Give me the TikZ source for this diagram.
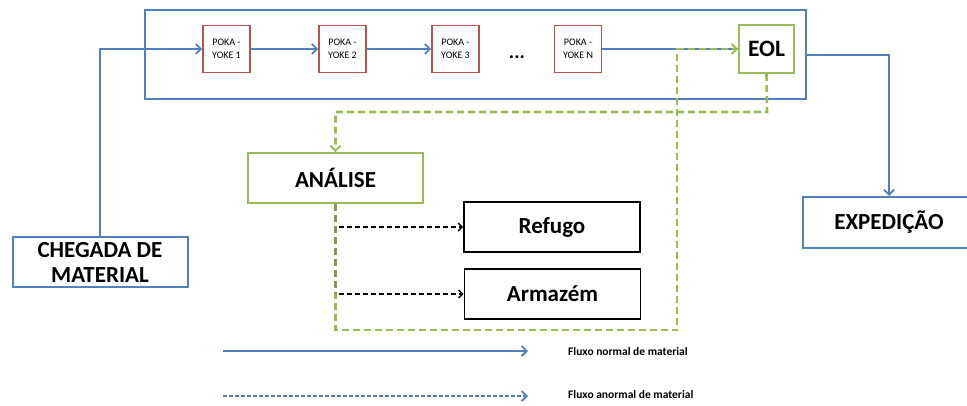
\documentclass[tikz,border=0pt]{standalone}
\usepackage{fontspec}
\setmainfont{Carlito}
\usetikzlibrary{arrows.meta}

\definecolor{azul}{HTML}{4F81BD}
\definecolor{vermelho}{HTML}{C0504D}
\definecolor{verde}{HTML}{9BBB59}
\definecolor{verdeesc}{HTML}{7F9A52}

\tikzset{
  caixa/.style={draw=azul, line width=2pt, fill=white, align=center, inner sep=0pt,
    font=\bfseries\fontsize{23}{25}\selectfont},
  poka/.style={draw=vermelho, line width=1.8pt, fill=white, align=center, inner sep=0pt,
    minimum width=47pt, minimum height=47pt, font=\fontsize{10}{12.5}\selectfont},
  ponta/.style={-{Straight Barb[length=5pt, width=10pt, line width=1.8pt]}},
  pontinha/.style={-{Straight Barb[length=4pt, width=8pt, line width=1.4pt]}},
  fluxo/.style={azul, line width=2.2pt, ponta},
  retorno/.style={verde, line width=2.6pt, dash pattern=on 7pt off 4pt},
  saida/.style={black, line width=1.6pt, dash pattern=on 5pt off 3pt, pontinha},
  legenda/.style={anchor=west, inner sep=0pt, font=\bfseries\fontsize{11.5}{13}\selectfont}
}

\begin{document}
\begin{tikzpicture}[x=1pt, y=-1pt]
  \useasboundingbox (0,0) rectangle (967,405);
  \clip (0,0) rectangle (967,405);

  % linha de montagem
  \node[draw=azul, line width=2pt, minimum width=661pt, minimum height=89pt, inner sep=0pt] (linha) at (475.5,54.5) {};
  \node[poka] (pk1) at (226.5,49) {POKA -\\YOKE 1};
  \node[poka] (pk2) at (342.5,49) {POKA -\\YOKE 2};
  \node[poka] (pk3) at (455.5,49) {POKA -\\YOKE 3};
  \node[font=\bfseries\fontsize{20}{20}\selectfont, inner sep=0pt] (pts) at (517,57) {...};
  \node[poka] (pkN) at (578,49) {POKA -\\YOKE N};
  \node[caixa, draw=verde, minimum width=55pt, minimum height=48pt, font=\bfseries\fontsize{23.5}{26}\selectfont] (eol) at (766.5,49) {EOL};

  % caixas de fora
  \node[caixa, minimum width=175pt, minimum height=50pt] (chegada) at (100,262) {CHEGADA DE\\MATERIAL};
  \node[caixa, minimum width=172pt, minimum height=51pt] (expedicao) at (889,222.5) {EXPEDIÇÃO};
  \node[caixa, draw=verde, minimum width=175pt, minimum height=50pt] (analise) at (335.5,178) {ANÁLISE};
  \node[caixa, draw=black, line width=1.7pt, minimum width=176pt, minimum height=50pt] (refugo) at (552,227) {Refugo};
  \node[caixa, draw=black, line width=1.7pt, minimum width=176pt, minimum height=50pt] (armazem) at (552.5,294) {Armazém};

  % fluxo normal
  \draw[fluxo] (chegada.north) |- (pk1.west);
  \draw[fluxo] (pk1) -- (pk2);
  \draw[fluxo] (pk2) -- (pk3);
  \draw[azul, line width=2.2pt] (pkN.east) -- (eol.west);
  \draw[fluxo] (linha.east |- 0,55) -| (expedicao.north);

  % fluxo anormal
  \coordinate (desvio) at (767,112);
  \coordinate (fundo) at (677,330);
  \draw[retorno, ponta] (eol.south) -- (desvio) -| (analise.north);
  \draw[retorno, ponta] (analise.south) |- (fundo) |- (eol.west);
  \draw[retorno, verdeesc] (analise.south) -- (analise.south |- armazem.west);
  \draw[saida] (analise.south |- refugo.west) ++(3,0) -- (refugo.west);
  \draw[saida] (analise.south |- armazem.west) ++(3,0) -- (armazem.west);

  % legenda
  \coordinate (n1) at (223,351);
  \coordinate (n2) at (528,351);
  \coordinate (a1) at (223,396);
  \coordinate (a2) at (528,396);
  \draw[fluxo, line width=2pt] (n1) -- (n2);
  \draw[azul, line width=2pt, dash pattern=on 4pt off 2pt, ponta] (a1) -- (a2);
  \node[legenda] (lnormal) at (568,352) {Fluxo normal de material};
  \node[legenda] (lanormal) at (568,395) {Fluxo anormal de material};
\end{tikzpicture}
\end{document}
